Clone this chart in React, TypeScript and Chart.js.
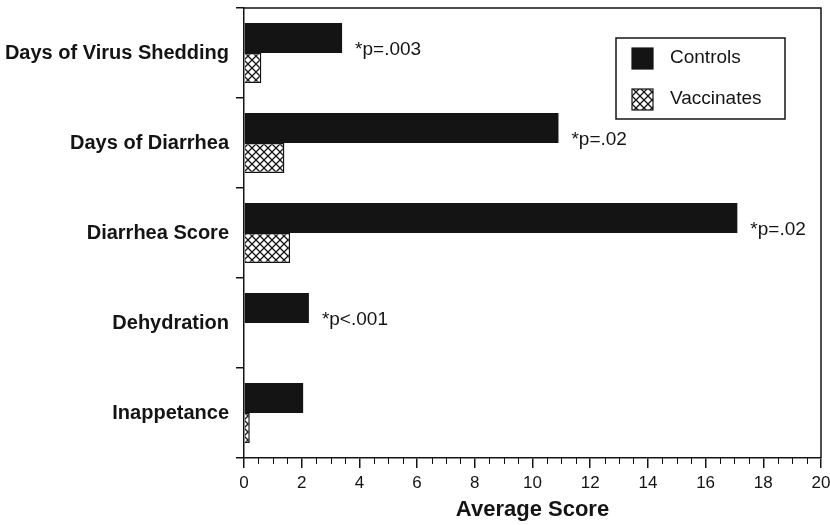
import React, { useEffect, useRef } from "react";
import { Chart, registerables } from "chart.js";

Chart.register(...registerables);

const categories = [
  "Days of Virus Shedding",
  "Days of Diarrhea",
  "Diarrhea Score",
  "Dehydration",
  "Inappetance",
];
const controls = [3.4, 10.9, 17.1, 2.25, 2.05];
const vaccinates = [0.6, 1.4, 1.6, 0, 0.2];
const pLabels = ["*p=.003", "*p=.02", "*p=.02", "*p<.001", ""];
const xTickValues = [0, 2, 4, 6, 8, 10, 12, 14, 16, 18, 20];
const seriesNames = ["Controls", "Vaccinates"];

const FONT = "'Liberation Sans', Arial, Helvetica, sans-serif";
const INK = "#141414";

function makeHatch(): CanvasPattern | string {
  const c = document.createElement("canvas");
  c.width = 8;
  c.height = 8;
  const g = c.getContext("2d");
  if (!g) return "#fff";
  g.fillStyle = "#fff";
  g.fillRect(0, 0, 8, 8);
  g.strokeStyle = INK;
  g.lineWidth = 1.3;
  g.beginPath();
  g.moveTo(-1, -1);
  g.lineTo(9, 9);
  g.moveTo(-1, 9);
  g.lineTo(9, -1);
  g.stroke();
  const p = g.createPattern(c, "repeat");
  return p || "#fff";
}

export default function App() {
  const ref = useRef<HTMLCanvasElement | null>(null);

  useEffect(() => {
    if (!ref.current) return;
    const hatch = makeHatch();

    const extras = {
      id: "extras",
      afterDatasetsDraw(chart: any) {
        const { ctx, chartArea, scales } = chart;
        const xs = scales.x;
        const ys = scales.y;
        ctx.save();
        // frame top & right
        ctx.strokeStyle = INK;
        ctx.lineWidth = 1.5;
        ctx.beginPath();
        ctx.moveTo(chartArea.left, chartArea.top);
        ctx.lineTo(chartArea.right, chartArea.top);
        ctx.lineTo(chartArea.right, chartArea.bottom);
        ctx.stroke();
        // minor ticks
        ctx.lineWidth = 1;
        ctx.beginPath();
        for (let v = 0.5; v < 20; v += 0.5) {
          if (v % 2 === 0) continue;
          const px = Math.round(xs.getPixelForValue(v)) + 0.5;
          ctx.moveTo(px, chartArea.bottom);
          ctx.lineTo(px, chartArea.bottom + 6);
        }
        ctx.stroke();
        // p-value annotations
        ctx.fillStyle = INK;
        ctx.font = `19px ${FONT}`;
        ctx.textAlign = "left";
        ctx.textBaseline = "middle";
        pLabels.forEach((t, i) => {
          if (!t) return;
          const x = xs.getPixelForValue(controls[i]) + 13;
          const y = ys.getPixelForValue(i) - 3;
          ctx.fillText(t, x, y);
        });
        // legend
        const bx = chartArea.right - 205;
        const by = chartArea.top + 30;
        const bw = 169;
        const bh = 81;
        ctx.fillStyle = "#fff";
        ctx.fillRect(bx, by, bw, bh);
        ctx.strokeStyle = INK;
        ctx.lineWidth = 1.5;
        ctx.strokeRect(bx, by, bw, bh);
        const fills = [INK, hatch];
        seriesNames.forEach((name, i) => {
          const sy = by + 10 + i * 41;
          ctx.fillStyle = fills[i] as any;
          ctx.fillRect(bx + 16, sy, 21, 21);
          ctx.lineWidth = 1.2;
          ctx.strokeRect(bx + 16, sy, 21, 21);
          ctx.fillStyle = INK;
          ctx.fillText(name, bx + 54, sy + 10);
        });
        ctx.restore();
      },
    };

    const chart = new Chart(ref.current, {
      type: "bar",
      data: {
        labels: categories,
        datasets: [
          {
            label: seriesNames[0],
            data: controls,
            backgroundColor: INK,
            borderColor: INK,
            borderWidth: 0,
            categoryPercentage: 2 / 3,
            barPercentage: 1,
          },
          {
            label: seriesNames[1],
            data: vaccinates,
            backgroundColor: hatch as any,
            borderColor: INK,
            borderWidth: 1.5,
            categoryPercentage: 2 / 3,
            barPercentage: 1,
          },
        ],
      },
      options: {
        indexAxis: "y",
        animation: false,
        responsive: false,
        maintainAspectRatio: false,
        layout: { padding: { left: 0, right: 9, top: 8, bottom: 0 } },
        plugins: {
          legend: { display: false },
          tooltip: { enabled: false },
        },
        scales: {
          y: {
            type: "category",
            offset: true,
            border: { display: true, color: INK, width: 1.5 },
            grid: {
              offset: true,
              drawOnChartArea: false,
              drawTicks: true,
              tickLength: 8,
              color: INK,
              lineWidth: 1.5,
            },
            ticks: {
              color: INK,
              padding: 7,
              font: { family: FONT, size: 20, weight: "bold" },
            },
            afterFit(scale: any) {
              scale.width = 244;
              scale.paddingTop = 0;
              scale.paddingBottom = 0;
            },
          },
          x: {
            type: "linear",
            min: 0,
            max: 20,
            border: { display: true, color: INK, width: 1.5 },
            grid: {
              drawOnChartArea: false,
              drawTicks: true,
              tickLength: 10,
              color: INK,
              lineWidth: 1.5,
            },
            afterBuildTicks(scale: any) {
              scale.ticks = xTickValues.map((v) => ({ value: v }));
            },
            ticks: {
              color: INK,
              padding: 5,
              font: { family: FONT, size: 17 },
            },
            title: {
              display: true,
              text: "Average Score",
              color: INK,
              font: { family: FONT, size: 22, weight: "bold" },
              padding: { top: 0, bottom: 2 },
            },
            afterFit(scale: any) {
              scale.height = 67;
              scale.paddingLeft = 0;
              scale.paddingRight = 0;
            },
          },
        },
      },
      plugins: [extras],
    });
    return () => chart.destroy();
  }, []);

  return (
    <div style={{ position: "fixed", left: 0, top: 0, width: 830, height: 525, background: "#fff" }}>
      <canvas ref={ref} width={830} height={525} style={{ width: 830, height: 525, display: "block" }} />
    </div>
  );
}
